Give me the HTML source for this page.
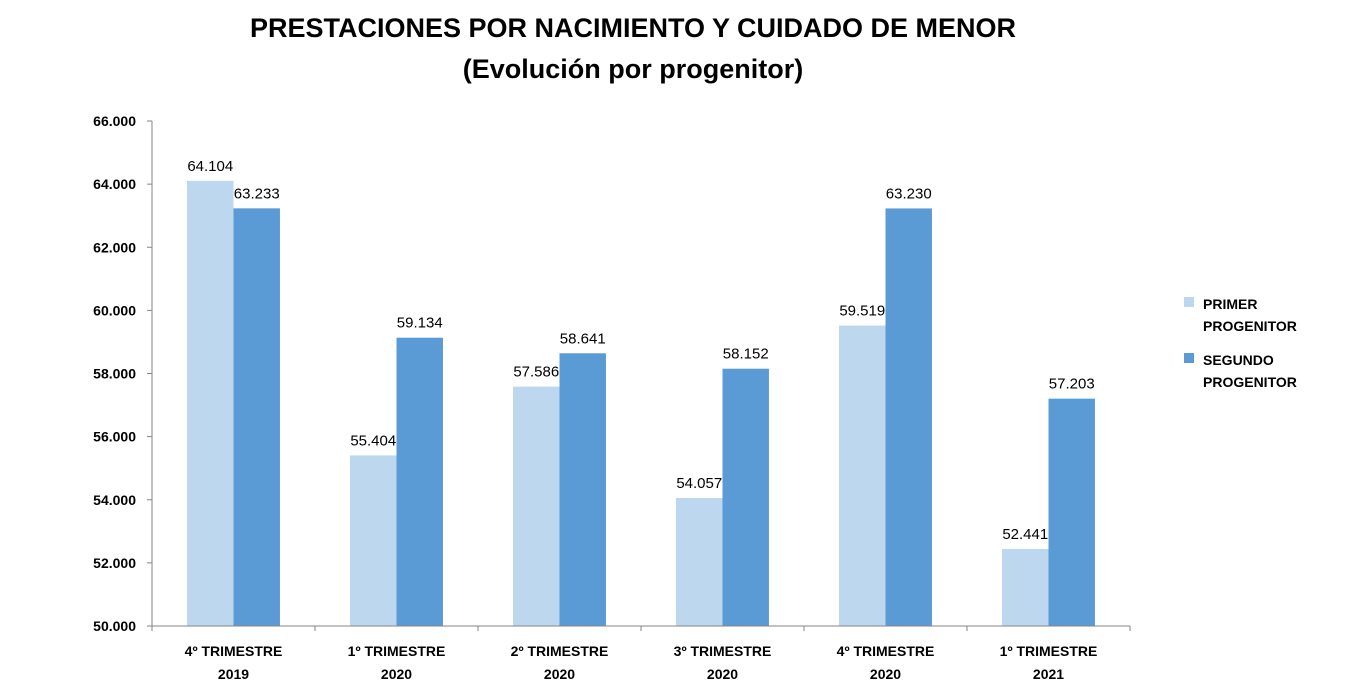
<!DOCTYPE html>
<html><head><meta charset="utf-8"><style>
body{margin:0;background:#fff;width:1346px;height:693px;overflow:hidden;font-family:"Liberation Sans",sans-serif}
svg text{font-family:"Liberation Sans",sans-serif}
</style></head><body>
<svg id="chart" width="1346" height="693" xmlns="http://www.w3.org/2000/svg">
<text x="633" y="37" text-anchor="middle" font-size="27" font-weight="bold" fill="#000">PRESTACIONES POR NACIMIENTO Y CUIDADO DE MENOR</text>
<text x="633" y="78" text-anchor="middle" font-size="27" font-weight="bold" fill="#000">(Evolución por progenitor)</text>
<g id="plot"></g>
<g>
<rect x="1184" y="297" width="10" height="10" fill="#bdd7ee"/>
<text x="1203" y="309" font-size="14" font-weight="bold">PRIMER</text>
<text x="1203" y="331" font-size="14" font-weight="bold">PROGENITOR</text>
<rect x="1184" y="353" width="10" height="10" fill="#5b9bd5"/>
<text x="1203" y="365" font-size="14" font-weight="bold">SEGUNDO</text>
<text x="1203" y="387" font-size="14" font-weight="bold">PROGENITOR</text>
</g>
</svg>
<script>
const categories = [["4º TRIMESTRE","2019"],["1º TRIMESTRE","2020"],["2º TRIMESTRE","2020"],["3º TRIMESTRE","2020"],["4º TRIMESTRE","2020"],["1º TRIMESTRE","2021"]];
const primer = [64104,55404,57586,54057,59519,52441];
const segundo = [63233,59134,58641,58152,63230,57203];
const yTicks = [50000,52000,54000,56000,58000,60000,62000,64000,66000];
const yMin = 50000, yMax = 66000;
const X0 = 152, X1 = 1130, Y0 = 626, Y1 = 121;
const NS = "http://www.w3.org/2000/svg";
const plot = document.getElementById('plot');
function y(v){return Y0 - (v - yMin)/(yMax - yMin)*(Y0 - Y1);}
const bandW = (X1 - X0)/categories.length;
function xBand(i){return X0 + i*bandW;}
function fmt(v){return v.toLocaleString('de-DE');}
function mk(tag, attrs){const e=document.createElementNS(NS,tag);for(const k in attrs)e.setAttribute(k,attrs[k]);plot.appendChild(e);return e;}
const barW = bandW*0.285;
categories.forEach((c,i)=>{
  const cx = xBand(i) + bandW/2;
  [[primer,'#bdd7ee',-1,'primer'],[segundo,'#5b9bd5',0,'segundo']].forEach(([arr,col,off,nm])=>{
    const bx = cx + off*barW;
    const r = mk('rect',{x:bx,y:y(arr[i]),width:barW,height:Y0-y(arr[i]),fill:col});
    
    
    const t = mk('text',{x:bx+barW/2,y:y(arr[i])-10,'text-anchor':'middle','font-size':15,fill:'#000'});
    t.textContent = fmt(arr[i]);
    
    
  });
  const t1 = mk('text',{x:cx,y:656,'text-anchor':'middle','font-size':14,'font-weight':'bold'});
  t1.textContent = c[0];
  
  
  const t2 = mk('text',{x:cx,y:679,'text-anchor':'middle','font-size':14,'font-weight':'bold'});
  t2.textContent = c[1];
  
  
});
const ya = mk('line',{x1:X0,y1:Y1,x2:X0,y2:Y0,stroke:'#868686','stroke-width':1});


const xa = mk('line',{x1:X0,y1:Y0,x2:X1,y2:Y0,stroke:'#868686','stroke-width':1});


for(let i=0;i<=categories.length;i++){
  const tk = mk('line',{x1:xBand(i),y1:Y0,x2:xBand(i),y2:Y0+5,stroke:'#868686'});
  
  
}
yTicks.forEach(v=>{
  const tk = mk('line',{x1:X0-5,y1:y(v),x2:X0,y2:y(v),stroke:'#868686'});
  
  
  const t = mk('text',{x:X0-16,y:y(v)+5,'text-anchor':'end','font-size':14,'font-weight':'bold'});
  t.textContent = fmt(v);
  
  
});
</script>
</body></html>
